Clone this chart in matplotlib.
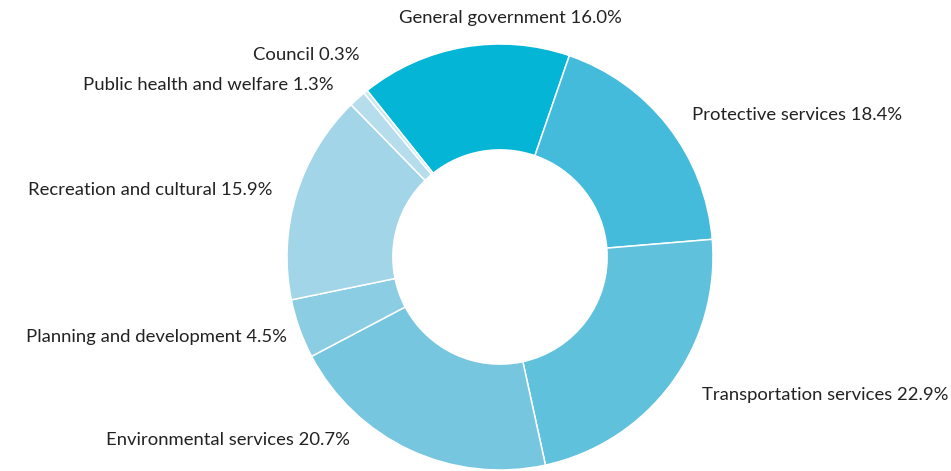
import matplotlib
matplotlib.use("Agg")
import matplotlib.pyplot as plt

categories = [
    "General government",
    "Protective services",
    "Transportation services",
    "Environmental services",
    "Planning and development",
    "Recreation and cultural",
    "Public health and welfare",
    "Council",
]
shares = [16.0, 18.4, 22.9, 20.7, 4.5, 15.9, 1.3, 0.3]
colors = ["#05B5D6", "#44BBDA", "#5FC1DC", "#77C6DF",
          "#8BCDE3", "#A2D5E8", "#B5DDEC", "#C8E6F1"]

# label anchor (x, y in pixels from top-left) and horizontal alignment
label_pos = [
    (510, 18, "center"),
    (692, 115, "left"),
    (702, 395, "left"),
    (350, 440, "right"),
    (287, 337, "right"),
    (273, 190, "right"),
    (334, 85, "right"),
    (360, 55, "right"),
]

W, H = 951, 471
fig = plt.figure(figsize=(W / 100, H / 100), dpi=100)
ax = fig.add_axes([0, 0, 1, 1])

cx, cy, r = 500, H - 257, 213
ax.pie(shares, colors=colors, startangle=128.6, counterclock=False,
       center=(cx, cy), radius=r,
       wedgeprops=dict(width=r * 0.497, edgecolor="white", linewidth=1.1))

ax.set_xlim(0, W)
ax.set_ylim(0, H)
ax.set_aspect("equal")
ax.axis("off")

for name, val, (x, y, ha) in zip(categories, shares, label_pos):
    ax.text(x, H - y, f"{name} {val:.1f}%", ha=ha, va="center",
            fontsize=13.3, family="Lato", color="#222222")

fig.savefig("out.png", dpi=100)
